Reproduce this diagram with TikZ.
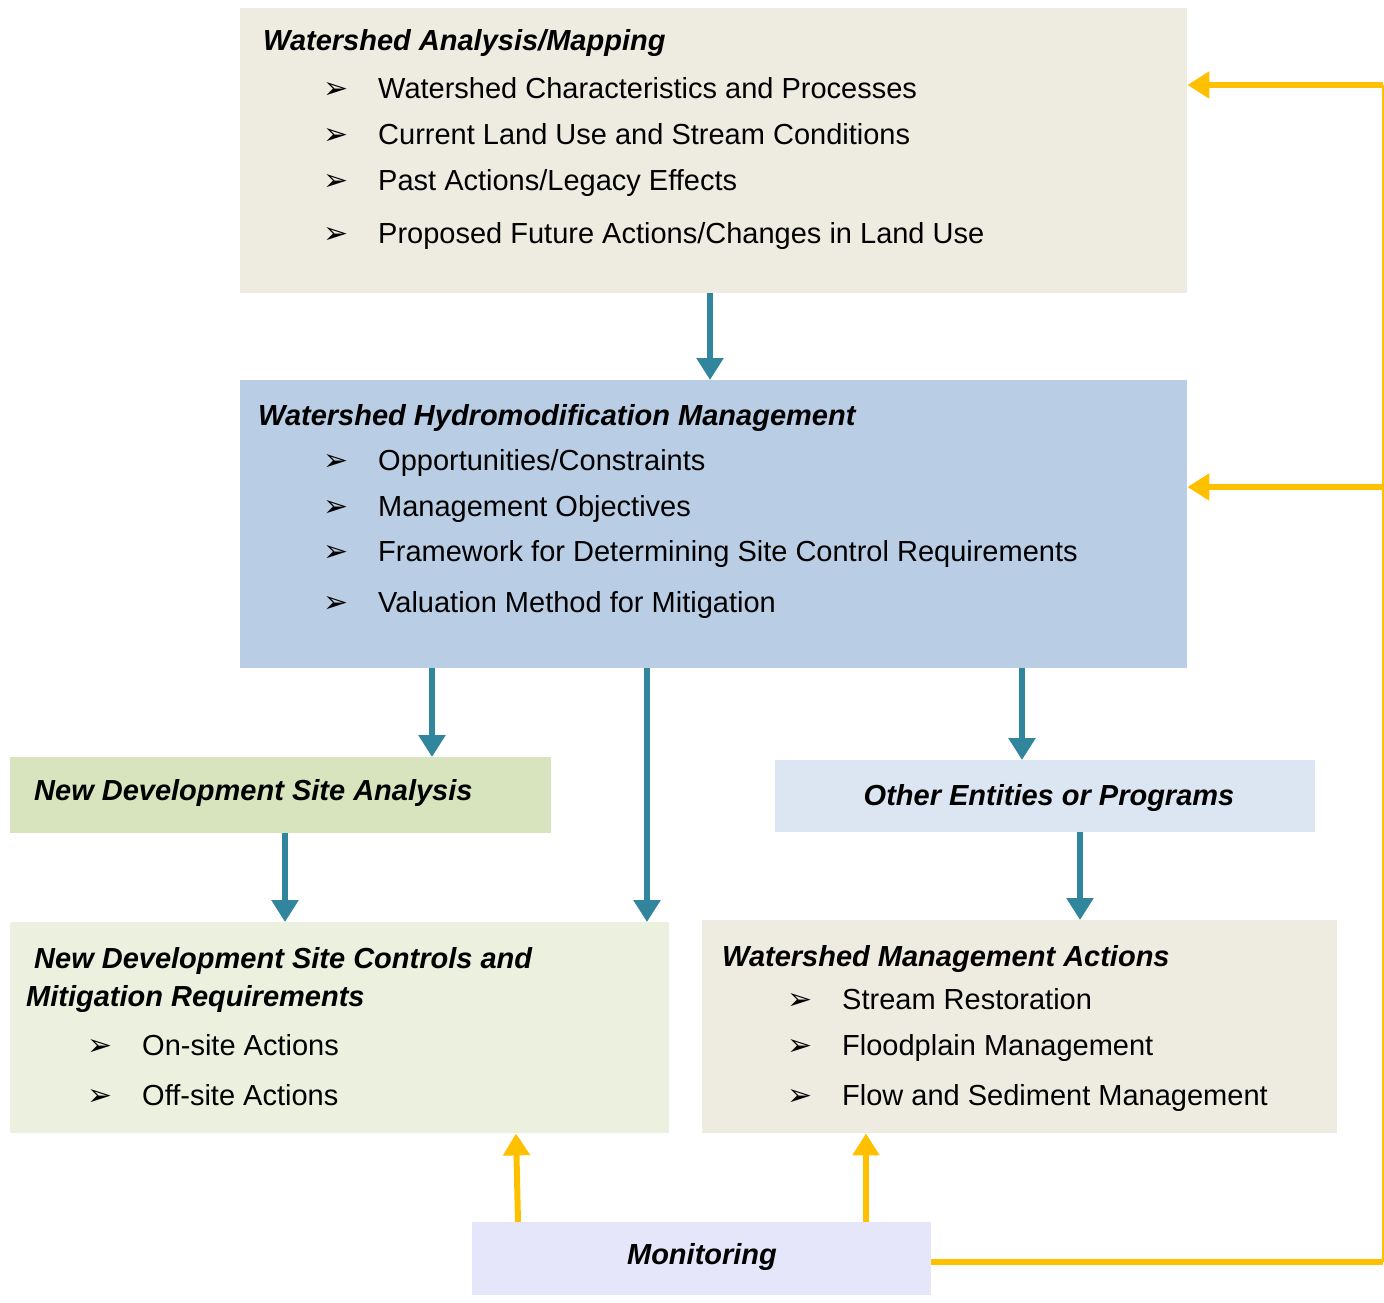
\documentclass[tikz,border=0pt]{standalone}
\usepackage{fontspec}
\setmainfont{Liberation Sans}
\newfontfamily\dejavu{DejaVu Sans}
\usetikzlibrary{arrows.meta,positioning}
\definecolor{tanbg}{HTML}{EEECE1}
\definecolor{bluebg}{HTML}{B9CDE5}
\definecolor{olivebg}{HTML}{D7E4BD}
\definecolor{palebluebg}{HTML}{DCE6F2}
\definecolor{palegreenbg}{HTML}{EBF1DE}
\definecolor{lavenderbg}{HTML}{E6E6FA}
\definecolor{tealline}{HTML}{31859C}
\definecolor{goldline}{HTML}{FFC000}

\newcommand{\itm}[1]{\makebox[55pt][l]{\dejavu\fontsize{30}{30}\selectfont ➢}#1}

\begin{document}
\begin{tikzpicture}[
x=1pt, y=-1pt,
font=\fontsize{29}{33}\selectfont,
box/.style={rectangle, draw=none, anchor=north west, inner sep=0pt},
title/.style={anchor=base west, inner sep=0pt, font=\fontsize{29}{33}\selectfont\bfseries\itshape},
item/.style={anchor=base west, inner sep=0pt},
down/.style={-{Triangle[width=26pt,length=22pt]}, line width=6pt, draw=tealline},
up/.style={-{Triangle[width=26pt,length=22pt]}, line width=6pt, draw=goldline}
]
    \useasboundingbox (0,0) rectangle (1384,1302);

    % Boxes
    \node[box, fill=tanbg, minimum width=947pt, minimum height=285pt] (map) at (240,8) {};
    \node[box, fill=bluebg, minimum width=947pt, minimum height=288pt] (hydro) at (240,380) {};
    \node[box, fill=olivebg, minimum width=541pt, minimum height=76pt] (siteana) at (10,757) {};
    \node[box, fill=palebluebg, minimum width=540pt, minimum height=72pt] (other) at (775,760) {};
    \node[box, fill=palegreenbg, minimum width=659pt, minimum height=211pt] (sitectl) at (10,922) {};
    \node[box, fill=tanbg, minimum width=635pt, minimum height=213pt] (wsact) at (702,920) {};
    \node[box, fill=lavenderbg, minimum width=459pt, minimum height=73pt] (mon) at (472,1222) {};

    % Texts
    \node[title] (maptitle) at (263,50) {Watershed Analysis/Mapping};
    \node[item] (map1) at (323,98) {\itm{Watershed Characteristics and Processes}};
    \node[item] (map2) at (323,144) {\itm{Current Land Use and Stream Conditions}};
    \node[item] (map3) at (323,190) {\itm{Past Actions/Legacy Effects}};
    \node[item] (map4) at (323,243) {\itm{Proposed Future Actions/Changes in Land Use}};

    \node[title] (hydrotitle) at (258,425) {Watershed Hydromodification Management};
    \node[item] (hydro1) at (323,470) {\itm{Opportunities/Constraints}};
    \node[item] (hydro2) at (323,516) {\itm{Management Objectives}};
    \node[item] (hydro3) at (323,561) {\itm{Framework for Determining Site Control Requirements}};
    \node[item] (hydro4) at (323,612) {\itm{Valuation Method for Mitigation}};

    \node[title] (siteanatitle) at (34,800) {New Development Site Analysis};
    \node[title, anchor=base] (othertitle) at (1049,805) {Other Entities or Programs};

    \node[title] (sitectltitle) at (34,968) {New Development Site Controls and};
    \node[title] (sitectltitleb) at (26,1006) {Mitigation Requirements};
    \node[item] (sitectl1) at (87,1055) {\itm{On-site Actions}};
    \node[item] (sitectl2) at (87,1105) {\itm{Off-site Actions}};

    \node[title] (wsacttitle) at (722,966) {Watershed Management Actions};
    \node[item] (wsact1) at (787,1009) {\itm{Stream Restoration}};
    \node[item] (wsact2) at (787,1055) {\itm{Floodplain Management}};
    \node[item] (wsact3) at (787,1105) {\itm{Flow and Sediment Management}};

    \node[title, anchor=base] (montitle) at (702,1264) {Monitoring};

    % Downward arrows
    \draw[down] (710,0 |- map.south) -- (710,0 |- hydro.north);
    \draw[down] (432,0 |- hydro.south) -- (432,0 |- siteana.north);
    \draw[down] (647,0 |- hydro.south) -- (647,0 |- sitectl.north);
    \draw[down] (1022,0 |- hydro.south) -- (1022,0 |- other.north);
    \draw[down] (285,0 |- siteana.south) -- (285,0 |- sitectl.north);
    \draw[down] (1080,0 |- other.south) -- (1080,0 |- wsact.north);

    % Feedback from monitoring
    \coordinate (loopbot) at (1383,1262);
    \coordinate (loopmid) at (1383,487);
    \coordinate (looptop) at (1383,85);
    \draw[up] (518,0 |- mon.north) -- (516,0 |- sitectl.south);
    \draw[up] (866,0 |- mon.north) -- (866,0 |- wsact.south);
    \draw[goldline, line width=6pt] (mon.east |- loopbot) -- (loopbot);
    \draw[goldline, line width=1.5pt] (loopbot) -- (looptop);
    \draw[up] (looptop) -- (looptop -| map.east);
    \draw[up] (loopmid) -- (loopmid -| hydro.east);
\end{tikzpicture}
\end{document}
